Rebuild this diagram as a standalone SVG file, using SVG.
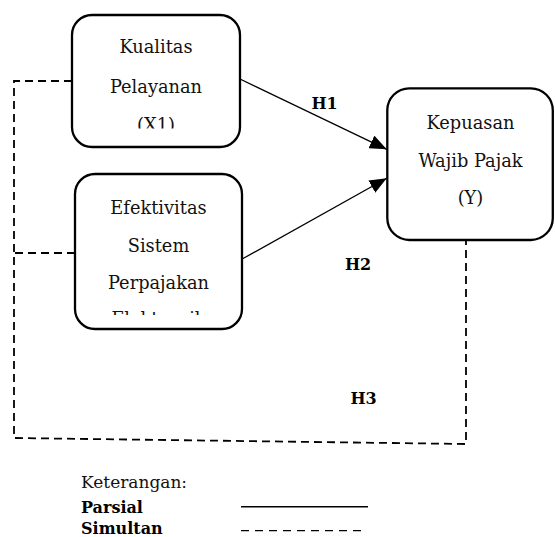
<svg xmlns="http://www.w3.org/2000/svg" width="555" height="537" viewBox="0 0 555 537">
<style>
.box{fill:#fff;stroke:#000;stroke-width:2.3}
.t{font-family:"DejaVu Serif","Liberation Serif",serif;font-size:17.8px;fill:#111;text-anchor:middle}
.lb{font-family:"DejaVu Serif","Liberation Serif",serif;font-size:16px;font-weight:bold;fill:#000}
.lg{font-family:"DejaVu Serif","Liberation Serif",serif;font-size:17px;fill:#111}
.solid{stroke:#000;stroke-width:1.3;fill:none}
.dash{stroke:#000;stroke-width:1.8;fill:none;stroke-dasharray:8 5}
</style>
<defs>
<marker id="arr" markerUnits="userSpaceOnUse" markerWidth="18" markerHeight="14" refX="17" refY="7" orient="auto">
<path d="M0,0 L17,7 L0,14 Z" fill="#000"/>
</marker>
<clipPath id="c1"><rect x="72" y="15" width="168" height="113.5"/></clipPath>
<clipPath id="c2"><rect x="75" y="174" width="167" height="141"/></clipPath>
</defs>
<g id="connectors">
<line class="solid" x1="240" y1="79" x2="386.7" y2="149.3" marker-end="url(#arr)"/>
<line class="solid" x1="241.7" y1="259.3" x2="386.7" y2="178.3" marker-end="url(#arr)"/>
<polyline class="dash" points="72,81 14,81 14,438 466,444 466,240"/>
<line class="dash" x1="75" y1="253" x2="14" y2="253"/>
<text class="lb" x="311.5" y="109">H1</text>
<text class="lb" x="345" y="270">H2</text>
<text class="lb" x="350.5" y="404">H3</text>
</g>
<g id="node-x1">
<rect class="box" x="72" y="15" width="168" height="132" rx="20"/>
<g clip-path="url(#c1)">
<text class="t" x="156" y="53">Kualitas</text>
<text class="t" x="156" y="92.5">Pelayanan</text>
<text class="t" x="156" y="131">(X1)</text>
</g>
</g>
<g id="node-x2">
<rect class="box" x="75" y="174" width="167" height="155" rx="20"/>
<g clip-path="url(#c2)">
<text class="t" x="158.5" y="214">Efektivitas</text>
<text class="t" x="158.5" y="251.5">Sistem</text>
<text class="t" x="158.5" y="289">Perpajakan</text>
<text class="t" x="158.5" y="324.5">Elektronik</text>
</g>
</g>
<g id="node-y">
<rect class="box" x="387.3" y="88.3" width="165.5" height="151.7" rx="22"/>
<text class="t" x="470.5" y="129.3">Kepuasan</text>
<text class="t" x="470.5" y="166.5">Wajib Pajak</text>
<text class="t" x="470.5" y="204">(Y)</text>
</g>
<g id="legend">
<text class="lg" x="81" y="488.3">Keterangan:</text>
<text class="lb" x="81" y="512.5">Parsial</text>
<text class="lb" x="81" y="534">Simultan</text>
<line x1="241" y1="506.7" x2="368" y2="506.7" stroke="#000" stroke-width="1.6"/>
<line x1="241" y1="530.7" x2="362" y2="530.7" stroke="#000" stroke-width="1.3" stroke-dasharray="8 6"/>
</g>
</svg>
